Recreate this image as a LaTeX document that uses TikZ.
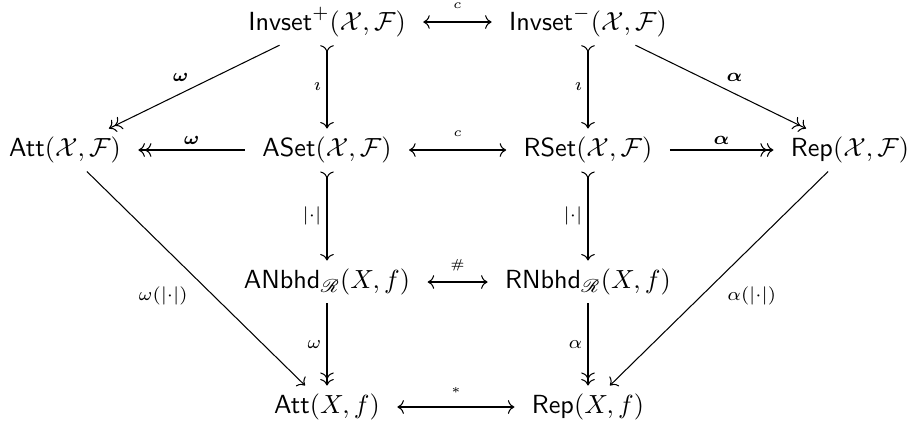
\documentclass[tikz,border=0pt]{standalone}
\usepackage{amsmath,amssymb,mathrsfs}
\usetikzlibrary{arrows.meta}
\begin{document}
\begin{tikzpicture}[x=0.3817pt,y=-0.3817pt,
  >={Computer Modern Rightarrow},
  line width=0.4pt,
  obj/.style={inner xsep=6.5pt,inner ysep=3pt},
  lbl/.style={inner sep=2pt},
  suplbl/.style={inner sep=0pt,anchor=base,yshift=5.3pt},
  dlbl/.style={inner sep=3pt}]
\useasboundingbox (0,0) rectangle (910,431);
% objects
\node[obj] (ip)   at (327,22)  {$\mathsf{Invset}^+(\mathcal{X},\mathcal{F})$};
\node[obj] (im)   at (588,22)  {$\mathsf{Invset}^-(\mathcal{X},\mathcal{F})$};
\node[obj] (attX) at (65,150)  {$\mathsf{Att}(\mathcal{X},\mathcal{F})$};
\node[obj] (aset) at (327,150) {$\mathsf{ASet}(\mathcal{X},\mathcal{F})$};
\node[obj] (rset) at (588,150) {$\mathsf{RSet}(\mathcal{X},\mathcal{F})$};
\node[obj] (repX) at (850,150) {$\mathsf{Rep}(\mathcal{X},\mathcal{F})$};
\node[obj] (anb)  at (327,282) {$\mathsf{ANbhd}_{\mathscr{R}}(X,f)$};
\node[obj] (rnb)  at (588,282) {$\mathsf{RNbhd}_{\mathscr{R}}(X,f)$};
\node[obj] (att)  at (327,407) {$\mathsf{Att}(X,f)$};
\node[obj] (rep)  at (588,407) {$\mathsf{Rep}(X,f)$};
% row 1
\draw[<->] (ip) -- node[suplbl] {$\scriptscriptstyle c$} (im);
\draw[->>] (ip) -- node[lbl,above left] {$\scriptstyle\boldsymbol{\omega}$} (attX);
\draw[->>] (im) -- node[lbl,above right] {$\scriptstyle\boldsymbol{\alpha}$} (repX);
\draw[>->] (ip) -- node[lbl,left] {$\scriptstyle\imath$} (aset);
\draw[>->] (im) -- node[lbl,left] {$\scriptstyle\imath$} (rset);
% row 2
\draw[->>] (aset) -- node[lbl,above] {$\scriptstyle\boldsymbol{\omega}$} (attX);
\draw[<->] (aset) -- node[suplbl] {$\scriptscriptstyle c$} (rset);
\draw[->>] (rset) -- node[lbl,above] {$\scriptstyle\boldsymbol{\alpha}$} (repX);
\draw[>->] (aset) -- node[lbl,left] {$\scriptstyle|\cdot|$} (anb);
\draw[>->] (rset) -- node[lbl,left] {$\scriptstyle|\cdot|$} (rnb);
\draw[->] (attX) -- node[dlbl,below left] {$\scriptstyle\omega(|\cdot|)$} (att);
\draw[->] (repX) -- node[dlbl,below right] {$\scriptstyle\alpha(|\cdot|)$} (rep);
% row 3
\draw[<->] (anb) -- node[suplbl] {$\scriptscriptstyle\#$} (rnb);
\draw[->>] (anb) -- node[lbl,left] {$\scriptstyle\omega$} (att);
\draw[->>] (rnb) -- node[lbl,left] {$\scriptstyle\alpha$} (rep);
% row 4
\draw[<->] (att) -- node[suplbl] {$\scriptscriptstyle *$} (rep);
\end{tikzpicture}
\end{document}
